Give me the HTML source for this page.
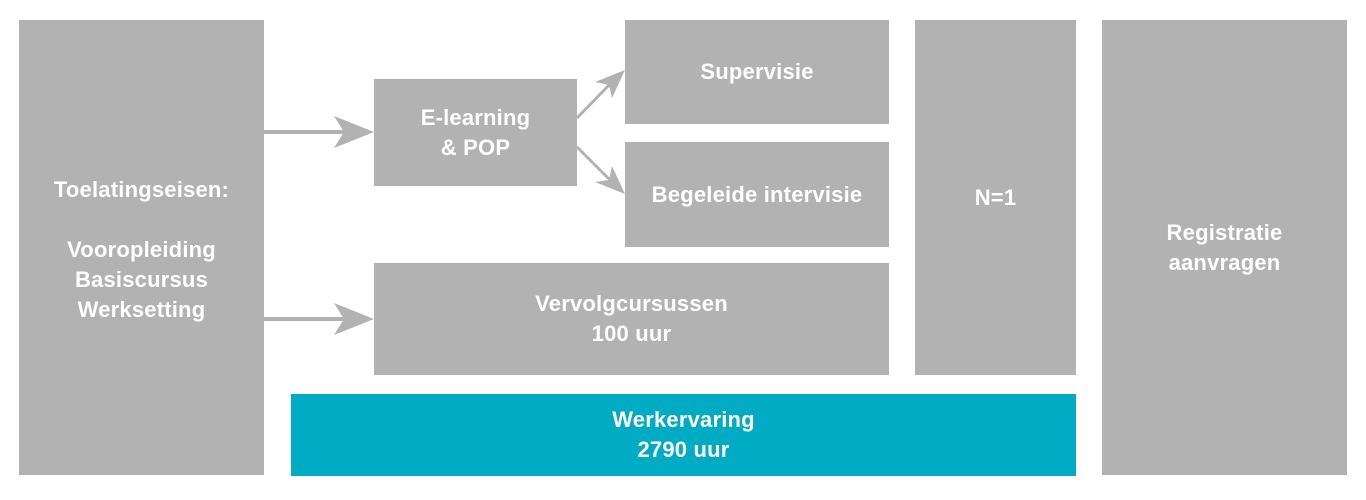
<!DOCTYPE html>
<html><head><style>
body{margin:0;width:1366px;height:500px;background:#fff;position:relative;overflow:hidden;font-family:"Liberation Sans",sans-serif;}
.b{position:absolute;background:#b2b2b2;color:#fff;font-weight:bold;font-size:22px;line-height:30px;display:flex;align-items:center;justify-content:center;text-align:center;letter-spacing:0.2px;}
</style></head><body>
<div class="b" style="left:19px;top:20px;width:245px;height:455px;padding-top:4px;box-sizing:border-box;">Toelatingseisen:<br><br>Vooropleiding<br>Basiscursus<br>Werksetting</div>
<div class="b" style="left:374px;top:79px;width:203px;height:107px;">E-learning<br>&amp; POP</div>
<div class="b" style="left:625px;top:20px;width:264px;height:104px;">Supervisie</div>
<div class="b" style="left:625px;top:142px;width:264px;height:105px;">Begeleide intervisie</div>
<div class="b" style="left:374px;top:263px;width:515px;height:112px;">Vervolgcursussen<br>100 uur</div>
<div class="b" style="left:915px;top:20px;width:161px;height:355px;">N=1</div>
<div class="b" style="left:1102px;top:20px;width:245px;height:455px;">Registratie<br>aanvragen</div>
<div class="b" style="left:291px;top:394px;width:785px;height:82px;background:#00abc3;">Werkervaring<br>2790 uur</div>
<svg width="1366" height="500" style="position:absolute;left:0;top:0">
<g fill="#b2b2b2" stroke="#b2b2b2">
<line x1="264" y1="132" x2="350" y2="132" stroke-width="4"/>
<polygon points="334,116 374,132 334,148 344,132" stroke="none"/>
<line x1="264" y1="319" x2="350" y2="319" stroke-width="4"/>
<polygon points="334,303 374,319 334,335 344,319" stroke="none"/>
<line x1="577" y1="118" x2="612" y2="82" stroke-width="3"/>
<polygon points="625,70 612,98 609,85 595,82" stroke="none"/>
<line x1="577" y1="147" x2="612" y2="182" stroke-width="3"/>
<polygon points="625,194 595,182 609,180 612,166" stroke="none"/>
</g></svg>
</body></html>
